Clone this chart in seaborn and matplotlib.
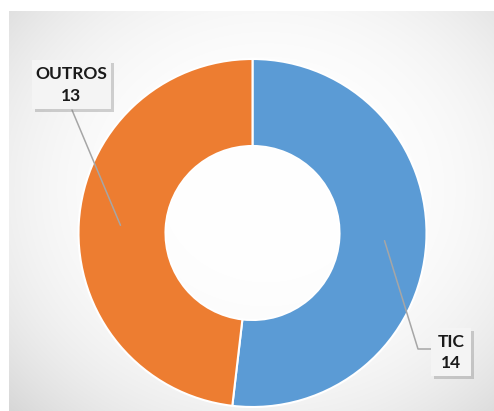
import numpy as np
import matplotlib
matplotlib.use("Agg")
import matplotlib.pyplot as plt
import matplotlib.patheffects as pe
from matplotlib.patches import Rectangle
import seaborn as sns

# data
categories = ["TIC", "OUTROS"]
values = [14, 13]
colors = ["#5B9BD5", "#ED7D31"]

sns.set_style("white")
plt.rcParams['font.family'] = ['Lato', 'DejaVu Sans']

W, H = 494, 411
fig = plt.figure(figsize=(W / 100, H / 100), dpi=100)
fig.patch.set_facecolor("white")

# gradient background panel
bx0, by_top = 9, 11
bg = fig.add_axes([bx0 / W, 0, (W - bx0) / W, (H - by_top) / H])
bg.set_axis_off()
nx, ny = 485, 400
xx, yy = np.meshgrid(np.arange(nx) + bx0, np.arange(ny) + by_top)
d = np.sqrt(((xx - 265) / 260.0) ** 2 + ((yy - 190) / 230.0) ** 2)
v = 1.0 - 0.061 * np.clip(d, 0, 1.5) ** 3
img = np.dstack([v, v, v])
bg.imshow(img, aspect="auto", interpolation="bilinear")

# pie axes mapped to pixels
cx, cy, R = 252.5, 233.0, 174.0
ax = fig.add_axes([0, 0, 1, 1])
ax.patch.set_alpha(0)
wedges, _ = ax.pie(values, colors=colors, startangle=90, counterclock=False,
                   radius=1.0, wedgeprops=dict(width=0.5, edgecolor="white", linewidth=1.5))
ax.set_aspect("auto")
ax.set_xlim(-cx / R, (W - cx) / R)
ax.set_ylim(-(H - cy) / R, cy / R)
ax.set_axis_off()

def P(px, py):
    return (px - cx) / R, (cy - py) / R

# anchors at mid-angle of each wedge
total = sum(values)
angles = []
start = 90.0
for val in values:
    span = 360.0 * val / total
    angles.append(np.deg2rad(start - span / 2))
    start -= span
r_anchor = 0.76
anc = [(r_anchor * np.cos(a), r_anchor * np.sin(a)) for a in angles]

line_kw = dict(color="#a6a6a6", lw=1.1, zorder=3)
# TIC leader
p1 = P(418, 349); p2 = P(431, 349)
ax.plot([anc[0][0], p1[0], p2[0]], [anc[0][1], p1[1], p2[1]], **line_kw)
# OUTROS leader
q1 = P(72, 110)
ax.plot([anc[1][0], q1[0]], [anc[1][1], q1[1]], **line_kw)

shadow = [pe.SimplePatchShadow(offset=(2.5, -2.5), shadow_rgbFace="#7f7f7f", alpha=0.35), pe.Normal()]

def box(px0, py0, px1, py1):
    x0, y1 = P(px0, py0)
    x1, y0 = P(px1, py1)
    r = Rectangle((x0, y0), x1 - x0, y1 - y0, facecolor="#f4f4f4", edgecolor="none", zorder=4)
    r.set_path_effects(shadow)
    ax.add_patch(r)

box(32, 60, 111, 109)
box(431, 328, 471, 376)

tkw = dict(ha="center", va="center", fontsize=12.5, fontweight="bold", color="#1a1a1a", zorder=5)
ax.text(*P(71.5, 74), categories[1], **tkw)
ax.text(*P(71.5, 96), str(values[1]), **tkw)
ax.text(*P(451, 342), categories[0], **tkw)
ax.text(*P(451, 363), str(values[0]), **tkw)

fig.savefig("out.png", dpi=100)
